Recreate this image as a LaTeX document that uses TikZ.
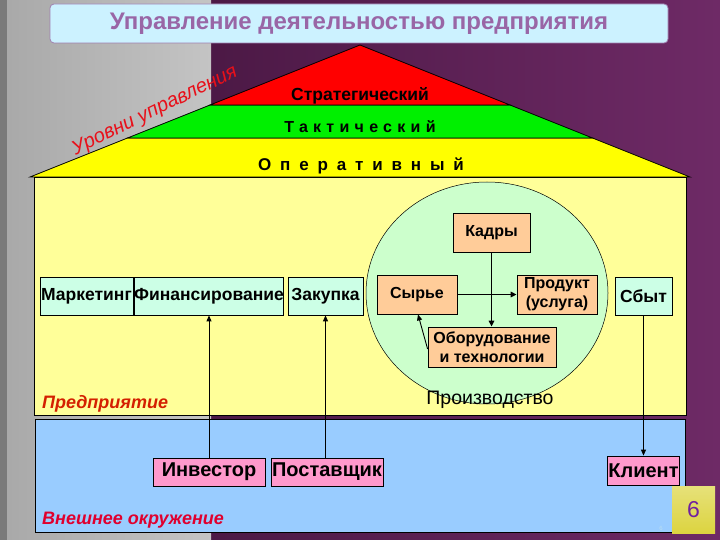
\documentclass[tikz,border=0pt]{standalone}
\usepackage{fontspec}
\setmainfont{Liberation Sans}
\usetikzlibrary{arrows.meta,shapes.geometric}
\definecolor{purpdark}{HTML}{3E1238}
\definecolor{purplight}{HTML}{6E2A66}
\definecolor{grayA}{HTML}{A8A8A8}
\definecolor{grayB}{HTML}{C4C4C4}
\definecolor{grayC}{HTML}{7A7A7A}
\definecolor{titlefill}{HTML}{CCF2FF}
\definecolor{titleborder}{HTML}{A080B0}
\definecolor{titletext}{HTML}{9966A6}
\definecolor{roofred}{HTML}{FF0000}
\definecolor{roofgreen}{HTML}{00F000}
\definecolor{roofyellow}{HTML}{FFFF00}
\definecolor{bodyyellow}{HTML}{FFFF99}
\definecolor{envblue}{HTML}{99CCFF}
\definecolor{mint}{HTML}{CCFFE6}
\definecolor{prodgreen}{HTML}{CCFFCC}
\definecolor{salmon}{HTML}{FFCC99}
\definecolor{pinkbox}{HTML}{FF99CC}
\definecolor{labred}{HTML}{D42000}
\definecolor{envred}{HTML}{E0002E}
\definecolor{levred}{HTML}{E8101A}
\definecolor{pagefill}{HTML}{DCD440}
\definecolor{pagetext}{HTML}{7020A0}
\definecolor{faint}{HTML}{B8DDF2}
\begin{document}
\begin{tikzpicture}[x=1pt,y=-1pt,
  box/.style={draw=black, line width=0.8pt, inner sep=0pt, align=center},
  leftbox/.style={box, fill=mint, minimum height=38pt, font=\fontsize{17.5}{19}\selectfont\bfseries},
  prodbox/.style={box, fill=salmon, font=\fontsize{16}{19}\selectfont\bfseries},
  extbox/.style={box, fill=pinkbox, minimum height=28pt, font=\fontsize{20}{22}\selectfont\bfseries},
  arr/.style={line width=0.9pt, -{Triangle[length=6pt,width=5pt]}},
  arrthick/.style={line width=1.4pt, -{Triangle[length=6pt,width=5.5pt]}},
  rooftext/.style={inner sep=0pt}
]
\useasboundingbox (0,0) rectangle (720,540);
% background
\shade[left color=purpdark, right color=purplight] (0,0) rectangle (720,540);
\shade[left color=grayA, right color=grayB] (0,0) rectangle (211,540);
\fill[grayC] (0,0) rectangle (7,540);
% title
\node (title) [draw=titleborder, line width=0.8pt, fill=titlefill, rounded corners=4pt,
  minimum width=618pt, minimum height=39pt, inner sep=0pt,
  font=\fontsize{24}{26}\selectfont\bfseries, text=titletext] at (359,23.5)
  {Управление деятельностью предприятия};
% roof
\coordinate (apex) at (360,45);
\coordinate (rl) at (210,105);
\coordinate (rr) at (510,105);
\coordinate (gl) at (127.5,138);
\coordinate (gr) at (592.5,138);
\coordinate (yl) at (30,177);
\coordinate (yr) at (690,177);
\filldraw[fill=roofyellow, draw=black, line width=0.8pt] (gl) -- (gr) -- (yr) -- (yl) -- cycle;
\filldraw[fill=roofgreen, draw=black, line width=0.8pt] (rl) -- (rr) -- (gr) -- (gl) -- cycle;
\filldraw[fill=roofred, draw=black, line width=0.8pt] (apex) -- (rr) -- (rl) -- cycle;
\node (strat) [rooftext, font=\fontsize{17.5}{20}\selectfont\bfseries] at (360,96) {Стратегический};
\node (takt) [rooftext, font=\fontsize{16}{18}\selectfont\bfseries\addfontfeature{LetterSpace=33}] at (360,127) {Тактический};
\node (oper) [rooftext, font=\fontsize{17}{20}\selectfont\bfseries\addfontfeature{LetterSpace=52}] at (361,166) {Оперативный};
\node (levels) [rotate=26, text=levred, inner sep=0pt, font=\fontsize{20}{22}\selectfont\itshape] at (155,111) {Уровни управления};
% body and environment
\filldraw[fill=bodyyellow, draw=black, line width=0.8pt] (34,177) rectangle (686,415);
\filldraw[fill=envblue, draw=black, line width=0.8pt] (35,419) rectangle (685,532);
% production ellipse
\node (prod) [ellipse, draw=black, line width=0.5pt, fill=prodgreen, minimum width=242pt, minimum height=222pt, inner sep=0pt] at (487,293) {};
\node (prodlabel) [inner sep=0pt, font=\fontsize{19.5}{21}\selectfont] at (490,400) {Производство};
% production boxes
\node (kadry) [prodbox, minimum width=77pt, minimum height=39pt] at (491.5,232.5) {Кадры};
\node (syrie) [prodbox, minimum width=80pt, minimum height=39pt] at (417,294.5) {Сырье};
\node (produkt) [prodbox, minimum width=80pt, minimum height=39pt] at (557,294.5) {Продукт\\(услуга)};
\node (oborud) [prodbox, minimum width=128pt, minimum height=40pt] at (492,347) {Оборудование\\и технологии};
% enterprise boxes
\node (market) [leftbox, minimum width=93pt] at (86.5,296) {Маркетинг};
\node (finans) [leftbox, minimum width=148pt] at (209,296) {Финансирование};
\node (zakup) [leftbox, minimum width=75pt] at (325.5,296) {Закупка};
\node (sbyt) [leftbox, minimum width=57pt] at (643.5,296) {Сбыт};
% external boxes
\node (invest) [extbox, minimum width=112pt] at (209,472) {Инвестор};
\node (postav) [extbox, minimum width=112pt] at (327,472) {Поставщик};
\node (klient) [extbox, minimum width=72pt, minimum height=29pt] at (643.5,470.5) {Клиент};
% labels
\node (predpr) [anchor=west, inner sep=0pt, text=labred, font=\fontsize{18}{20}\selectfont\bfseries\itshape] at (42,404) {Предприятие};
\node (vneshn) [anchor=west, inner sep=0pt, text=envred, font=\fontsize{18}{20}\selectfont\bfseries\itshape] at (42,520) {Внешнее окружение};
% connectors
\draw[arr] (invest.north) -- (finans.south);
\draw[arr] (zakup.south |- postav.north) -- (zakup.south);
\draw[arr] (sbyt.south) -- (klient.north);
\draw[arrthick] (kadry.south) -- (kadry.south |- oborud.north);
\draw[arrthick] (syrie.east) -- (produkt.west);
\draw[arr] ([yshift=-2pt]oborud.west) -- ([xshift=1pt]syrie.south);
% page number
\shade[top color=pagefill!70!white, bottom color=pagefill, draw=none] (672,486) rectangle (715,533);
\node (pagenum) [text=pagetext, inner sep=0pt, font=\fontsize{23}{25}\selectfont] at (693.5,509.5) {6};
\node (pagesmall) [text=faint, inner sep=0pt, font=\fontsize{6}{7}\selectfont] at (661,528) {6};
\end{tikzpicture}
\end{document}
